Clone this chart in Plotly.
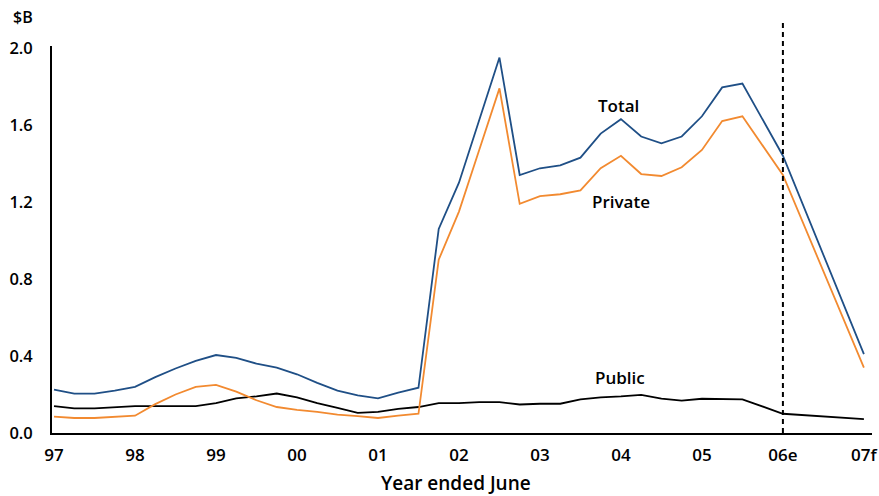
import plotly.graph_objects as go

# Quarterly observations, year ended June (x in years); last two points are 06e and 07f
x_years = [1997.0, 1997.25, 1997.5, 1997.75, 1998.0, 1998.25, 1998.5, 1998.75,
           1999.0, 1999.25, 1999.5, 1999.75, 2000.0, 2000.25, 2000.5, 2000.75,
           2001.0, 2001.25, 2001.5, 2001.75, 2002.0, 2002.25, 2002.5, 2002.75,
           2003.0, 2003.25, 2003.5, 2003.75, 2004.0, 2004.25, 2004.5, 2004.75,
           2005.0, 2005.25, 2005.5, 2006.0, 2007.0]

total = [0.225, 0.205, 0.205, 0.22, 0.24, 0.29, 0.335, 0.375,
         0.405, 0.39, 0.36, 0.34, 0.305, 0.26, 0.22, 0.195,
         0.18, 0.21, 0.235, 1.06, 1.30, 1.62, 1.95, 1.34,
         1.375, 1.39, 1.43, 1.555, 1.63, 1.54, 1.505, 1.54,
         1.645, 1.795, 1.815, 1.44, 0.41]

private = [0.085, 0.078, 0.078, 0.083, 0.09, 0.15, 0.20, 0.24,
           0.25, 0.215, 0.17, 0.135, 0.12, 0.11, 0.095, 0.088,
           0.078, 0.09, 0.10, 0.90, 1.15, 1.47, 1.79, 1.19,
           1.23, 1.24, 1.26, 1.375, 1.44, 1.345, 1.335, 1.38,
           1.47, 1.62, 1.645, 1.34, 0.34]

public = [0.14, 0.128, 0.128, 0.135, 0.14, 0.14, 0.14, 0.14,
          0.155, 0.18, 0.19, 0.205, 0.185, 0.155, 0.13, 0.105,
          0.11, 0.125, 0.135, 0.155, 0.155, 0.16, 0.16, 0.148,
          0.152, 0.152, 0.175, 0.185, 0.19, 0.198, 0.178, 0.168,
          0.178, 0.175, 0.175, 0.10, 0.072]

tick_years = [1997, 1998, 1999, 2000, 2001, 2002, 2003, 2004, 2005, 2006, 2007]
tick_labels = ["97", "98", "99", "00", "01", "02", "03", "04", "05", "06e", "07f"]
y_ticks = [0.0, 0.4, 0.8, 1.2, 1.6, 2.0]
y_tick_labels = ["0.0", "0.4", "0.8", "1.2", "1.6", "2.0"]
forecast_boundary = 2006

FONT = "'Open Sans', sans-serif"
BLUE = "#1f4f86"
ORANGE = "#f28a30"

fig = go.Figure()
fig.add_trace(go.Scatter(x=x_years, y=public, mode="lines", name="Public",
                         line=dict(color="#000000", width=1.8)))
fig.add_trace(go.Scatter(x=x_years, y=private, mode="lines", name="Private",
                         line=dict(color=ORANGE, width=1.8)))
fig.add_trace(go.Scatter(x=x_years, y=total, mode="lines", name="Total",
                         line=dict(color=BLUE, width=1.8)))

fig.add_shape(type="line", xref="x", yref="paper",
              x0=forecast_boundary, x1=forecast_boundary, y0=0, y1=1.062,
              line=dict(color="#000000", width=2, dash="5px,4px"))

ann_font = dict(family=FONT, size=17, color="#000000", weight=600)
fig.add_annotation(x=2003.97, y=1.7, text="Total", showarrow=False, font=ann_font)
fig.add_annotation(x=2004.0, y=1.2, text="Private", showarrow=False, font=ann_font)
fig.add_annotation(x=2003.99, y=0.29, text="Public", showarrow=False, font=ann_font)
fig.add_annotation(xref="paper", yref="paper", x=-0.035, y=1.075, text="$B",
                   showarrow=False, xanchor="center", yanchor="middle",
                   font=dict(family=FONT, size=16, color="#000000", weight=600))
fig.add_annotation(xref="paper", yref="paper", x=0.4925, y=-0.128, text="Year ended June",
                   showarrow=False, xanchor="center", yanchor="middle",
                   font=dict(family=FONT, size=19, color="#000000", weight=600))

fig.update_layout(
    width=879, height=496,
    margin=dict(l=52, r=7, t=46, b=63),
    paper_bgcolor="white", plot_bgcolor="white",
    showlegend=False,
    font=dict(family=FONT, size=16, color="#000000", weight=600),
)
fig.update_xaxes(range=[1996.975, 2007.1], tickvals=tick_years, ticktext=tick_labels,
                 tickfont=dict(family=FONT, size=17, weight=600),
                 showgrid=False, zeroline=False, showline=True, linecolor="#000000",
                 linewidth=1.8, ticks="", ticklabelstandoff=6, automargin=False)
fig.update_yaxes(range=[0, 2.01], tickvals=y_ticks, ticktext=y_tick_labels,
                 tickfont=dict(family=FONT, size=16.5, weight=600),
                 showgrid=False, zeroline=False, showline=True, linecolor="#000000",
                 linewidth=1.8, ticks="", ticklabelstandoff=14, automargin=False)

fig.write_html("out.html", config={"displayModeBar": False},
               post_script="document.body.style.margin='0';")
